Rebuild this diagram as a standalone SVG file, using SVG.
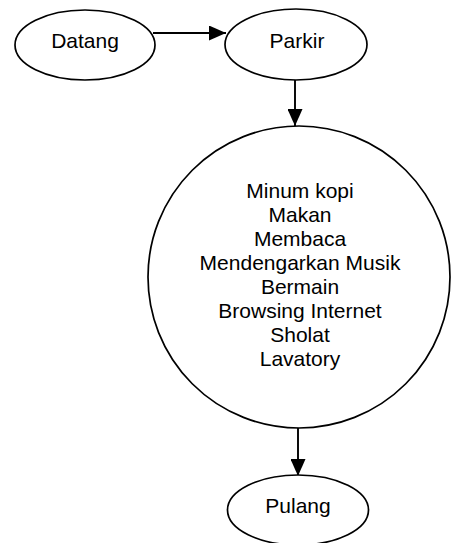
<svg xmlns="http://www.w3.org/2000/svg" width="458" height="543" viewBox="0 0 458 543">
<style>
.n{fill:#fff;stroke:#000;stroke-width:1.7}
.t{font-family:"Liberation Sans",Arial,sans-serif;font-size:21px;fill:#000;text-anchor:middle}
.c{stroke:#000;stroke-width:1.9;fill:none}
</style>
<defs>
<marker id="ah" markerWidth="17" markerHeight="15" refX="17" refY="7.5" orient="auto" markerUnits="userSpaceOnUse">
<path d="M0,0 L17,7.5 L0,15 Z" fill="#000"/>
</marker>
</defs>
<rect width="458" height="543" fill="#fff"/>
<g id="connectors">
<line class="c" x1="153" y1="33" x2="226" y2="33" marker-end="url(#ah)"/>
<line class="c" x1="295" y1="80" x2="295" y2="126" marker-end="url(#ah)"/>
<line class="c" x1="298" y1="428" x2="298" y2="476" marker-end="url(#ah)"/>
</g>
<g id="datang">
<ellipse class="n" cx="85" cy="45" rx="70" ry="35"/>
<text class="t" x="85" y="48">Datang</text>
</g>
<g id="parkir">
<ellipse class="n" cx="296" cy="44.5" rx="71" ry="35.5"/>
<text class="t" x="297" y="48">Parkir</text>
</g>
<g id="aktivitas">
<ellipse class="n" cx="299" cy="277" rx="151" ry="151"/>
<text class="t" x="300" y="198">Minum kopi</text>
<text class="t" x="300" y="222">Makan</text>
<text class="t" x="300" y="246">Membaca</text>
<text class="t" x="300" y="270">Mendengarkan Musik</text>
<text class="t" x="300" y="294">Bermain</text>
<text class="t" x="300" y="318">Browsing Internet</text>
<text class="t" x="300" y="342">Sholat</text>
<text class="t" x="300" y="366">Lavatory</text>
</g>
<g id="pulang">
<ellipse class="n" cx="298" cy="510" rx="70.5" ry="35"/>
<text class="t" x="298" y="513">Pulang</text>
</g>
</svg>
